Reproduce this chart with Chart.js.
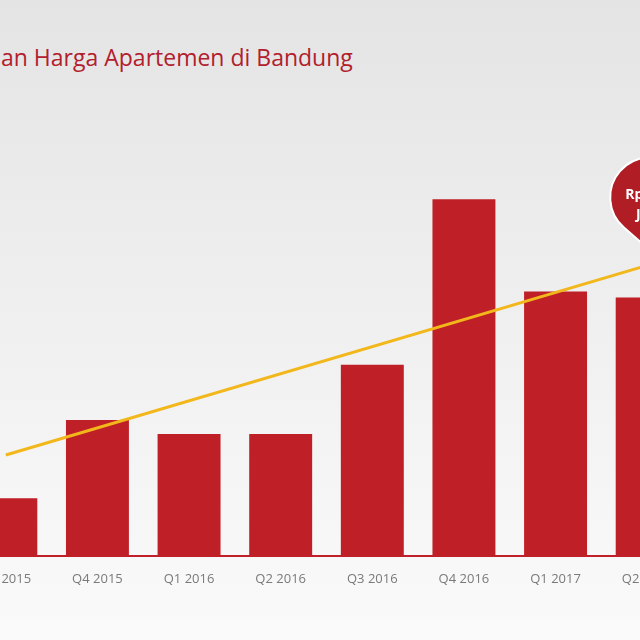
<!DOCTYPE html>
<html lang="id">
<head>
    <meta charset="UTF-8">
    <title>Harga Apartemen di Bandung</title>
    <script src="https://cdn.jsdelivr.net/npm/chart.js@4"></script>
    <style>
        html, body {
            margin: 0;
            padding: 0;
            width: 640px;
            height: 640px;
            overflow: hidden;
        }
        body {
            position: relative;
            background: linear-gradient(#e4e4e4 0%, #ececec 35%, #f4f4f4 70%, #fafafa 100%);
            font-family: 'Open Sans', sans-serif;
        }
        .judul {
            position: absolute;
            left: 1px;
            top: 41px;
            font-size: 23px;
            color: #b2202c;
            white-space: nowrap;
        }
        .wadah {
            position: absolute;
            left: -40px;
            top: 0;
            width: 733px;
            height: 640px;
        }
    </style>
</head>
<body>
    <div class="judul">an Harga Apartemen di Bandung</div>
    <div class="wadah"><canvas id="grafik"></canvas></div>

    <script>
        // data (indeks harga)
        const kuartal = ['Q3 2015', 'Q4 2015', 'Q1 2016', 'Q2 2016', 'Q3 2016', 'Q4 2016', 'Q1 2017', 'Q2 2017'];
        const harga = [58, 136, 122, 122, 191, 356, 264, 258];
        const tren = [101, null, null, null, null, null, null, 290];
        const labelBalon = ['Rp 14,5', 'Juta'];

        // balon merah di ujung garis tren
        const balonPlugin = {
            id: 'balon',
            afterDatasetsDraw(chart) {
                const meta = chart.getDatasetMeta(1);
                const pt = meta.data[meta.data.length - 1];
                const ctx = chart.ctx;
                const cx = pt.x + 3, cy = pt.y - 68, r = 40;
                const tipY = pt.y - 15;
                const d = tipY - cy;
                const b = Math.acos(r / d);
                ctx.save();
                ctx.beginPath();
                ctx.moveTo(cx, tipY);
                ctx.arc(cx, cy, r, Math.PI / 2 + b, Math.PI / 2 - b + Math.PI * 2);
                ctx.closePath();
                ctx.fillStyle = '#b01d25';
                ctx.fill();
                ctx.lineWidth = 2;
                ctx.strokeStyle = '#ffffff';
                ctx.stroke();
                ctx.fillStyle = '#ffffff';
                ctx.font = 'bold 14px "Open Sans"';
                ctx.textAlign = 'center';
                ctx.textBaseline = 'middle';
                ctx.fillText(labelBalon[0], cx, cy - 2);
                ctx.fillText(labelBalon[1], cx, cy + 18);
                ctx.restore();
            }
        };

        const ctx = document.getElementById('grafik').getContext('2d');
        new Chart(ctx, {
            data: {
                labels: kuartal,
                datasets: [{
                    type: 'bar',
                    data: harga,
                    backgroundColor: '#bf1f26',
                    barPercentage: 0.687,
                    categoryPercentage: 1,
                    order: 1
                }, {
                    type: 'line',
                    data: tren,
                    spanGaps: true,
                    borderColor: '#f2b71b',
                    borderWidth: 3,
                    pointRadius: 0,
                    order: 0
                }]
            },
            options: {
                responsive: true,
                maintainAspectRatio: false,
                animation: false,
                layout: { padding: { top: 155, bottom: 46, left: 0, right: 0 } },
                plugins: {
                    legend: { display: false },
                    tooltip: { enabled: false }
                },
                scales: {
                    x: {
                        grid: { display: false },
                        border: { color: '#c0202a', width: 2 },
                        ticks: {
                            color: '#7a7a7a',
                            padding: 7,
                            font: { family: 'Open Sans', size: 13 }
                        }
                    },
                    y: {
                        display: false,
                        min: 0,
                        max: 400
                    }
                }
            },
            plugins: [balonPlugin]
        });
    </script>
</body>
</html>
